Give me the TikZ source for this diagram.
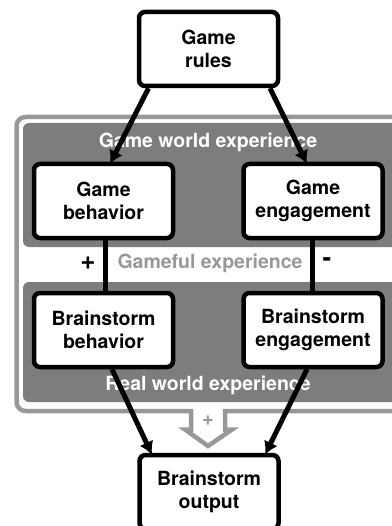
\documentclass[tikz,border=0pt]{standalone}
\usepackage{fontspec}
\setmainfont{TeX Gyre Heros}
\usetikzlibrary{arrows.meta}
\definecolor{regiongray}{RGB}{125,125,125}
\definecolor{framegray}{RGB}{152,152,152}
\tikzstyle{block} = [draw, line width=4.5pt, rounded corners=6pt, fill=white, align=center, inner sep=0pt, minimum width=139pt, minimum height=74pt, font=\fontsize{19.5}{23}\selectfont\bfseries]
\tikzstyle{region} = [fill=regiongray, rounded corners=6pt]
\tikzstyle{regionlabel} = [text=white, font=\fontsize{19.5}{23}\selectfont\bfseries]
\tikzstyle{line} = [draw, line width=5pt, -{Latex[length=13pt,width=15pt]}]
\tikzstyle{link} = [draw, line width=5pt]

\begin{document}
\begin{tikzpicture}[x=1pt,y=-1pt]
    \useasboundingbox (0,0) rectangle (391,526);
    % Draw outer frame with the block arrow
    \draw[framegray, line width=4.5pt] (191,411) [rounded corners=9pt] -- (16.5,411) -- (16.5,117) -- (410,117) -- (410,411) [sharp corners] -- (225,411) -- (225,429.5) -- (232,429.5) -- (208,446) -- (185,429.5) -- (191,429.5) -- cycle;
    \node[framegray, font=\fontsize{20}{20}\selectfont\bfseries] (plus) at (208,421) {+};
    % Draw the two experience regions
    \fill[region] (23,123) rectangle (420,247);
    \fill[region] (23,282) rectangle (420,402);
    \node[regionlabel] (gamelabel) at (208,142) {Game world experience};
    \node[regionlabel] (reallabel) at (208,385) {Real world experience};
    \node[text=framegray, font=\fontsize{19.5}{23}\selectfont\bfseries] (gameful) at (210,263) {Gameful experience};
    \node[font=\fontsize{26}{26}\selectfont\bfseries] (pos) at (88,263) {+};
    \node[font=\fontsize{26}{26}\selectfont\bfseries] (neg) at (327,262) {-};
    % Draw the boxes
    \node[block] (rules) at (208.5,49) {Game\\rules};
    \node[block] (gbeh) at (103.5,201) {Game\\behavior};
    \node[block] (geng) at (313,201) {Game\\engagement};
    \node[block] (bbeh) at (103.5,330) {Brainstorm\\behavior};
    \node[block] (beng) at (313,330) {Brainstorm\\engagement};
    \node[block] (out) at (209,492) {Brainstorm\\output};
    % Draw the links
    \path[link] ([xshift=1.5pt]gbeh.south) -- ([xshift=1.5pt]bbeh.north);
    \path[link] ([xshift=-1pt]geng.south) -- ([xshift=-1pt]beng.north);
    \path[line] ([xshift=-60pt]rules.south) -- ([xshift=6.5pt,yshift=-2pt]gbeh.north);
    \path[line] ([xshift=61.5pt]rules.south) -- ([xshift=-6pt,yshift=-2pt]geng.north);
    \path[line] ([xshift=8.5pt]bbeh.south) -- ([xshift=-57pt,yshift=-2pt]out.north);
    \path[line] ([xshift=-6pt]beng.south) -- ([xshift=56pt,yshift=-2pt]out.north);
\end{tikzpicture}
\end{document}
